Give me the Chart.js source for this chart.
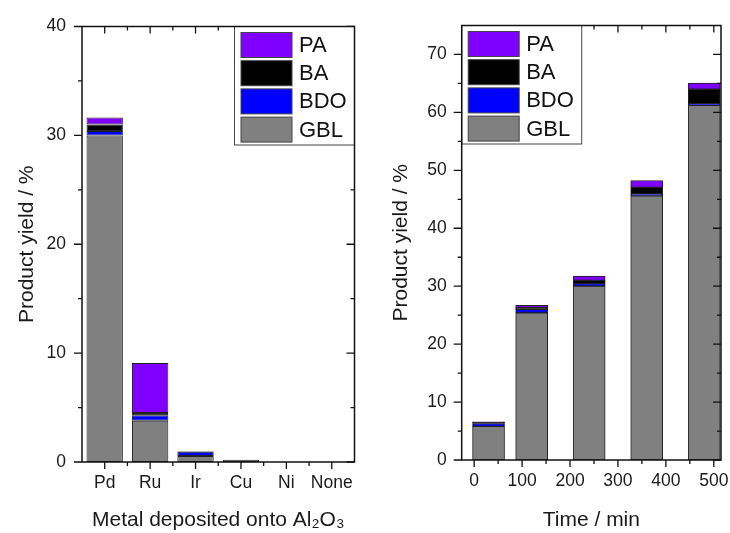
<!DOCTYPE html>
<html>
<head>
<meta charset="utf-8">
<script src="https://cdn.jsdelivr.net/npm/chart.js@4.4.1/dist/chart.umd.min.js"></script>
<style>
  body { margin: 0; background: #fff; }
  #wrap { position: relative; width: 730px; height: 533px; }
  canvas { position: absolute; top: 0; }
  #left-chart { left: 0; }
  #right-chart { left: 365px; }
</style>
</head>
<body>
<div id="wrap">
  <canvas id="left-chart" width="365" height="533"></canvas>
  <canvas id="right-chart" width="365" height="533"></canvas>
</div>
<script>
// left panel: metal on Al2O3
const metals = ['Pd', 'Ru', 'Ir', 'Cu', 'Ni', 'None'];
const metalGBL = [30.0, 3.8, 0.55, 0.2, 0, 0];
const metalBDO = [0.4, 0.5, 0.4, 0, 0, 0];
const metalBA = [0.6, 0.2, 0.03, 0, 0, 0];
const metalPA = [0.65, 4.6, 0.03, 0, 0, 0];
const leftYTicks = [0, 10, 20, 30, 40];

// right panel: yield vs time
const times = [30, 120, 240, 360, 480];
const timeGBL = [5.8, 25.4, 30.0, 45.6, 61.2];
const timeBDO = [0.5, 0.6, 0.45, 0.35, 0.3];
const timeBA = [0.2, 0.3, 0.55, 1.1, 2.5];
const timePA = [0.1, 0.4, 0.75, 1.2, 1.05];
const rightXTicks = [0, 100, 200, 300, 400, 500];
const rightYTicks = [0, 10, 20, 30, 40, 50, 60, 70];

const seriesNames = ['GBL', 'BDO', 'BA', 'PA'];
const seriesColors = ['#808080', '#0000ff', '#000000', '#8000ff'];

const FONT = "'Liberation Sans', Arial, sans-serif";
Chart.defaults.font.family = FONT;
Chart.defaults.color = '#1a1a1a';
Chart.defaults.animation = false;

function makeDatasets(series, xs) {
    return series.map((vals, k) => ({
        label: seriesNames[k],
        data: xs ? vals.map((v, i) => ({ x: xs[i], y: v })) : vals,
        backgroundColor: seriesColors[k],
        borderColor: '#222',
        borderWidth: 1,
        borderSkipped: false
    }));
}

// midpoints between major ticks, plus half a step past the ends if still inside
function minorsOf(majors, lo, hi) {
    let out = [];
    for (let i = 0; i < majors.length - 1; i++) out.push((majors[i] + majors[i + 1]) / 2);
    if (majors.length > 1) {
        const step = majors[1] - majors[0];
        out.push(majors[0] - step / 2, majors[majors.length - 1] + step / 2);
    }
    return out.filter(p => p > Math.min(lo, hi) + 1 && p < Math.max(lo, hi) - 1);
}

// ticks on all four sides, box legend, axis frame
const decor = {
    id: 'decor',
    afterDraw(chart, args, opts) {
        const { ctx, chartArea: a, scales: { x, y } } = chart;
        const xMaj = x.ticks.map((t, i) => x.getPixelForTick(i));
        const yMaj = y.ticks.map((t, i) => y.getPixelForTick(i));
        const xMin = minorsOf(xMaj, a.left, a.right);
        const yMin = minorsOf(yMaj, a.bottom, a.top);

        ctx.save();
        ctx.strokeStyle = '#111';
        ctx.lineWidth = 1.3;
        ctx.beginPath();
        const xt = (list, len) => list.forEach(p => {
            ctx.moveTo(p, a.bottom); ctx.lineTo(p, a.bottom + len);
            ctx.moveTo(p, a.top); ctx.lineTo(p, a.top + len);
        });
        const yt = (list, len) => list.forEach(p => {
            ctx.moveTo(a.left, p); ctx.lineTo(a.left - len, p);
            ctx.moveTo(a.right, p); ctx.lineTo(a.right - len, p);
        });
        xt(xMaj, 7); xt(xMin, 4);
        yt(yMaj, 8); yt(yMin, 4);
        ctx.stroke();

        // legend box
        const w = 120, h = 118.5;
        const left = opts.side === 'right' ? a.right - w : a.left;
        const top = a.top;
        ctx.fillStyle = '#fff';
        ctx.fillRect(left, top, w, h);
        ctx.strokeStyle = '#444';
        ctx.lineWidth = 1;
        ctx.strokeRect(left, top, w, h);
        ctx.font = '22px ' + FONT;
        ctx.textBaseline = 'middle';
        chart.data.datasets.slice().reverse().forEach((ds, i) => {
            const sy = top + 6 + i * 28.2;
            ctx.fillStyle = ds.backgroundColor;
            ctx.fillRect(left + 6.5, sy, 51, 25);
            ctx.strokeStyle = '#444';
            ctx.strokeRect(left + 6.5, sy, 51, 25);
            ctx.fillStyle = '#111';
            ctx.fillText(ds.label, left + 64.5, sy + 13.5);
        });

        ctx.strokeStyle = '#111';
        ctx.lineWidth = 1.5;
        ctx.strokeRect(a.left, a.top, a.right - a.left, a.bottom - a.top);
        ctx.restore();
    }
};

const tickFont = { size: 17.5 };
const titleFont = { size: 21 };
const noGrid = { display: false, drawTicks: false };

new Chart(document.getElementById('left-chart'), {
    type: 'bar',
    data: {
        labels: metals,
        datasets: makeDatasets([metalGBL, metalBDO, metalBA, metalPA])
    },
    options: {
        responsive: false,
        layout: { padding: { left: 15, right: 10.5, top: 21.5, bottom: 0 } },
        datasets: { bar: { barPercentage: 0.8, categoryPercentage: 1.0 } },
        plugins: { legend: { display: false }, tooltip: { enabled: false }, decor: { side: 'right' } },
        scales: {
            x: {
                stacked: true,
                grid: noGrid, border: { display: false },
                ticks: { font: tickFont, padding: 11, maxRotation: 0 },
                title: { display: true, text: 'Metal deposited onto Al₂O₃', font: titleFont, padding: 0 },
                afterFit: s => { s.height = 71; s.paddingLeft = 0; s.paddingRight = 0; }
            },
            y: {
                stacked: true, min: 0, max: 40,
                grid: noGrid, border: { display: false },
                ticks: { font: tickFont, padding: 16 },
                afterBuildTicks: s => { s.ticks = leftYTicks.map(v => ({ value: v })); },
                title: { display: true, text: 'Product yield / %', font: titleFont, padding: 0 },
                afterFit: s => { s.width = 67; }
            }
        }
    },
    plugins: [decor]
});

new Chart(document.getElementById('right-chart'), {
    type: 'bar',
    data: {
        datasets: makeDatasets([timeGBL, timeBDO, timeBA, timePA], times)
    },
    options: {
        responsive: false,
        layout: { padding: { left: 24, right: 9, top: 21.5, bottom: 0 } },
        datasets: { bar: { barThickness: 32 } },
        plugins: { legend: { display: false }, tooltip: { enabled: false }, decor: { side: 'left' } },
        scales: {
            x: {
                type: 'linear', stacked: true, offset: false, min: -26, max: 515,
                grid: noGrid, border: { display: false },
                ticks: { font: tickFont, padding: 11, maxRotation: 0 },
                afterBuildTicks: s => { s.ticks = rightXTicks.map(v => ({ value: v })); },
                title: { display: true, text: 'Time / min', font: titleFont, padding: 0 },
                afterFit: s => { s.height = 73; s.paddingLeft = 0; s.paddingRight = 0; }
            },
            y: {
                stacked: true, min: 0, max: 75,
                grid: noGrid, border: { display: false },
                ticks: { font: tickFont, padding: 15 },
                afterBuildTicks: s => { s.ticks = rightYTicks.map(v => ({ value: v })); },
                title: { display: true, text: 'Product yield / %', font: titleFont, padding: 0 },
                afterFit: s => { s.width = 72.7; }
            }
        }
    },
    plugins: [decor]
});
</script>
</body>
</html>
